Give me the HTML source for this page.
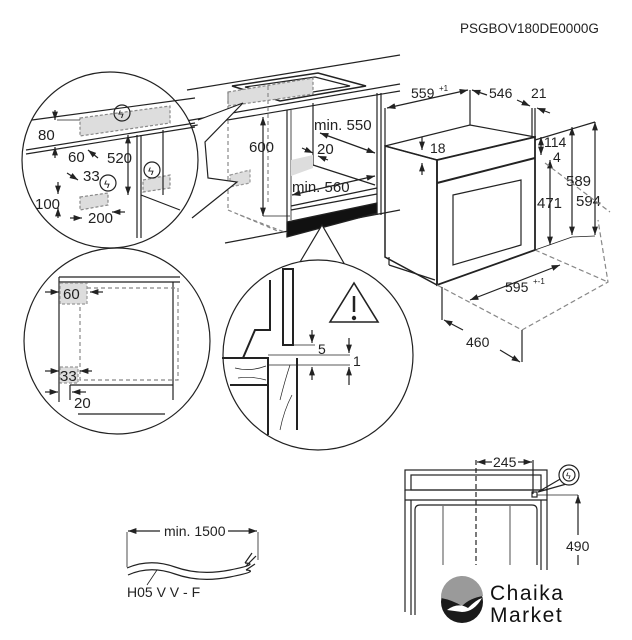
<!DOCTYPE html>
<html><head><meta charset="utf-8"><style>
html,body{margin:0;padding:0;background:#fff;}
svg{display:block}
text{font-family:"Liberation Sans",sans-serif;fill:#222;}
</style></head><body>
<svg width="632" height="640" viewBox="0 0 632 640" xmlns="http://www.w3.org/2000/svg">
<defs>
<marker id="a" viewBox="0 0 10 10" refX="10" refY="5" markerWidth="7" markerHeight="7" orient="auto-start-reverse"><path d="M0,1.5 L10,5 L0,8.5z" fill="#222"/></marker>
</defs>
<g stroke="#222" fill="none" stroke-width="1.2">
<text x="460" y="33" font-size="13.5" stroke="none">PSGBOV180DE0000G</text>

<!-- countertop -->
<line x1="187" y1="90" x2="400" y2="55"/>
<line x1="180" y1="122" x2="400" y2="84"/>
<line x1="180" y1="128" x2="400" y2="91"/>
<line x1="225" y1="243" x2="400" y2="210" />
<!-- hob -->
<polygon points="232,86 318,73 366,86 280,101" stroke-width="1.5"/>
<polygon points="245,87 315,77 350,86 282,97"/>
<polygon points="228,92 313,78 313,94 228,106" fill="#ddd" stroke="#888" stroke-dasharray="3,2"/>
<!-- cabinet -->
<line x1="287" y1="110" x2="287" y2="237"/>
<line x1="291" y1="110" x2="291" y2="220" stroke-width="0.8"/>
<line x1="377" y1="93" x2="377" y2="215"/>
<line x1="381" y1="93" x2="381" y2="215"/>
<line x1="313" y1="103" x2="313" y2="165"/>
<line x1="291" y1="172" x2="313" y2="165"/>
<line x1="313" y1="165" x2="375" y2="185"/>
<line x1="291" y1="206" x2="377" y2="188"/>
<line x1="291" y1="210" x2="377" y2="194"/>
<polygon points="287,222 377,203 377,213 287,237" fill="#111"/>
<polygon points="291,160 313,155 313,168 291,176" fill="#ddd" stroke="none"/>
<g stroke="#888" stroke-dasharray="4,3">
<line x1="228" y1="92" x2="228" y2="210"/>
<line x1="268" y1="86" x2="268" y2="205"/>
<line x1="240" y1="215" x2="287" y2="233"/>
<line x1="228" y1="210" x2="280" y2="232"/>
</g>
<polygon points="230,175 250,170 250,183 230,187" fill="#ddd" stroke="#999" stroke-dasharray="3,2"/>
<line x1="263" y1="117" x2="263" y2="216" marker-start="url(#a)" marker-end="url(#a)"/>
<line x1="263" y1="216" x2="290" y2="216" stroke-width="0.8"/>
<text x="249" y="152" font-size="15" stroke="none">600</text>
<text x="314" y="130" font-size="15" stroke="none">min. 550</text>
<line x1="320" y1="133" x2="375" y2="153" marker-start="url(#a)" marker-end="url(#a)"/>
<text x="317" y="154" font-size="15" stroke="none">20</text>
<line x1="302" y1="148" x2="313" y2="153" marker-end="url(#a)"/>
<line x1="328" y1="160" x2="318" y2="156" marker-end="url(#a)"/>
<text x="292" y="192" font-size="15" stroke="none">min. 560</text>
<line x1="292" y1="195" x2="375" y2="176" marker-start="url(#a)" marker-end="url(#a)"/>
<polyline points="198,120 243,103 205,142 208,178 237,182 192,218" fill="#fff"/>

<!-- circle 1 -->
<circle cx="110" cy="160" r="88" fill="#fff"/>
<g>
<line x1="32" y1="120" x2="195" y2="98"/>
<line x1="26" y1="150" x2="195" y2="123"/>
<line x1="26" y1="154" x2="195" y2="127"/>
<polygon points="80,118 170,106 170,123 80,136" fill="#ddd" stroke="#888" stroke-dasharray="3,2"/>
<polygon points="143,180 170,175 170,188 143,192" fill="#ddd" stroke="#888" stroke-dasharray="3,2"/>
<polygon points="80,197 108,193 108,205 80,210" fill="#ddd" stroke="#888" stroke-dasharray="3,2"/>
<line x1="137" y1="135" x2="137" y2="238"/>
<line x1="141" y1="135" x2="141" y2="238"/>
<line x1="163" y1="130" x2="163" y2="195"/>
<line x1="141" y1="195" x2="180" y2="210" />
<line x1="128" y1="135" x2="128" y2="195" marker-start="url(#a)" marker-end="url(#a)"/>
<line x1="55" y1="110" x2="55" y2="120" marker-end="url(#a)"/>
<line x1="55" y1="158" x2="55" y2="147" marker-end="url(#a)"/>
<line x1="57" y1="120" x2="80" y2="120" stroke-width="0.8"/>
<circle cx="122" cy="113" r="8"/><text x="118" y="118" font-size="11" stroke="none">ϟ</text>
<circle cx="152" cy="170" r="8"/><text x="148" y="175" font-size="11" stroke="none">ϟ</text>
<circle cx="108" cy="183" r="8"/><text x="104" y="188" font-size="11" stroke="none">ϟ</text>
<text x="38" y="140" font-size="15" stroke="none">80</text>
<text x="68" y="162" font-size="15" stroke="none">60</text>
<line x1="88" y1="150" x2="98" y2="158" marker-start="url(#a)"/>
<text x="107" y="163" font-size="15" stroke="none">520</text>
<text x="83" y="181" font-size="15" stroke="none">33</text>
<line x1="67" y1="173" x2="78" y2="180" marker-end="url(#a)"/>
<line x1="58" y1="182" x2="58" y2="194" marker-end="url(#a)"/>
<line x1="58" y1="218" x2="58" y2="208" marker-end="url(#a)"/>
<text x="35" y="209" font-size="15" stroke="none">100</text>
<text x="88" y="223" font-size="15" stroke="none">200</text>
<line x1="70" y1="218" x2="82" y2="218" marker-end="url(#a)"/>
<line x1="125" y1="212" x2="112" y2="212" marker-end="url(#a)"/>
</g>

<!-- circle 2 -->
<circle cx="117" cy="341" r="93" fill="#fff"/>
<line x1="59" y1="277" x2="180" y2="277"/>
<line x1="59" y1="282" x2="180" y2="282"/>
<line x1="59" y1="277" x2="59" y2="402"/>
<line x1="173" y1="282" x2="173" y2="400"/>
<line x1="70" y1="385" x2="173" y2="385"/>
<line x1="70" y1="385" x2="70" y2="400"/>
<line x1="78" y1="414" x2="165" y2="414"/>
<polygon points="60,283 87,283 87,304 60,304" fill="#ddd" stroke="#999" stroke-dasharray="3,2"/>
<polygon points="60,367 78,367 78,383 60,383" fill="#ddd" stroke="#999" stroke-dasharray="3,2"/>
<polyline points="87,288 178,288 178,380 80,380 80,305" stroke="#888" stroke-dasharray="4,3"/>
<text x="63" y="299" font-size="15" stroke="none">60</text>
<text x="60" y="381" font-size="15" stroke="none">33</text>
<text x="74" y="408" font-size="15" stroke="none">20</text>
<line x1="45" y1="292" x2="59" y2="292" marker-end="url(#a)"/>
<line x1="103" y1="292" x2="90" y2="292" marker-end="url(#a)"/>
<line x1="45" y1="371" x2="59" y2="371" marker-end="url(#a)"/>
<line x1="92" y1="371" x2="80" y2="371" marker-end="url(#a)"/>
<line x1="45" y1="392" x2="58" y2="392" marker-end="url(#a)"/>
<line x1="86" y1="392" x2="72" y2="392" marker-end="url(#a)"/>

<!-- circle 3 -->
<polyline points="300,262 322,225 345,265" fill="#fff"/>
<circle cx="318" cy="355" r="95" fill="#fff"/>
<polygon points="283,269 293,269 293,345 283,345" fill="#fff" stroke-width="2"/>
<polyline points="270,280 270,330 255,330 243,358 222,358" stroke-width="2"/>
<polyline points="222,358 268,358 268,435" stroke-width="2"/>
<line x1="297" y1="358" x2="297" y2="430" stroke-width="2"/>
<line x1="230" y1="385" x2="268" y2="385" stroke-width="2"/>
<line x1="268" y1="355" x2="350" y2="355" stroke-width="0.8"/>
<line x1="268" y1="365" x2="350" y2="365" stroke-width="0.8"/>
<line x1="293" y1="345" x2="315" y2="345" stroke-width="0.8"/>
<line x1="312" y1="330" x2="312" y2="343" marker-end="url(#a)"/>
<line x1="312" y1="380" x2="312" y2="367" marker-end="url(#a)"/>
<line x1="349" y1="338" x2="349" y2="353" marker-end="url(#a)"/>
<line x1="349" y1="385" x2="349" y2="367" marker-end="url(#a)"/>
<text x="318" y="354" font-size="14" stroke="none">5</text>
<text x="353" y="366" font-size="14" stroke="none">1</text>
<polygon points="354,283 330,322 378,322" stroke-width="1.6"/>
<line x1="354" y1="296" x2="354" y2="312" stroke-width="2.5"/>
<circle cx="354" cy="318" r="1.6" fill="#222"/>
<path d="M235 368 Q250 372 266 366 M238 378 Q252 376 266 380 M280 400 Q285 380 290 365 M280 430 Q284 410 292 395" stroke-width="0.7"/>

<!-- oven -->
<polygon points="385,146 470,125 535,137 437,160" />
<polygon points="385,146 437,160 437,285 385,257" stroke-width="1.5"/>
<polygon points="437,160 535,137 535,250 437,285" stroke-width="1.8"/>
<line x1="437" y1="183" x2="535" y2="158" stroke-width="2"/>
<polygon points="453,195 521,180 521,245 453,265"/>
<line x1="389" y1="257" x2="389" y2="265"/><line x1="389" y1="265" x2="435" y2="280"/>
<line x1="535" y1="140" x2="595" y2="122"/>
<line x1="385" y1="146" x2="385" y2="108"/>
<line x1="470" y1="125" x2="470" y2="90"/>
<line x1="532" y1="137" x2="532" y2="108"/>
<line x1="535" y1="137" x2="535" y2="108"/>
<line x1="387" y1="108" x2="468" y2="90" marker-start="url(#a)" marker-end="url(#a)"/>
<text x="411" y="98" font-size="14" stroke="none">559</text><text x="439" y="91" font-size="8" stroke="none">+1</text>
<text x="489" y="98" font-size="14" stroke="none">546</text>
<line x1="472" y1="90" x2="487" y2="95" marker-start="url(#a)"/>
<line x1="517" y1="100" x2="530" y2="106" marker-end="url(#a)"/>
<text x="531" y="98" font-size="14" stroke="none">21</text>
<line x1="550" y1="113" x2="537" y2="108" marker-end="url(#a)"/>
<text x="430" y="153" font-size="14" stroke="none">18</text>
<line x1="422" y1="137" x2="422" y2="150" marker-end="url(#a)"/>
<line x1="422" y1="175" x2="422" y2="163" marker-end="url(#a)"/>
<text x="544" y="147" font-size="14" stroke="none">114</text>
<line x1="541" y1="137" x2="541" y2="155" marker-start="url(#a)" marker-end="url(#a)"/>
<text x="553" y="162" font-size="14" stroke="none">4</text>
<line x1="550" y1="160" x2="550" y2="245" marker-start="url(#a)" marker-end="url(#a)"/>
<text x="537" y="208" font-size="15" stroke="none">471</text>
<line x1="572" y1="127" x2="572" y2="235" marker-start="url(#a)" marker-end="url(#a)"/>
<text x="566" y="186" font-size="15" stroke="none">589</text>
<line x1="595" y1="122" x2="595" y2="235" marker-start="url(#a)" marker-end="url(#a)"/>
<text x="576" y="206" font-size="15" stroke="none">594</text>
<g stroke="#888" stroke-dasharray="5,3">
<polyline points="437,285 522,330 608,282 598,220"/>
<line x1="535" y1="250" x2="608" y2="282"/>
<polyline points="545,163 610,212"/>
</g>
<line x1="535" y1="250" x2="572" y2="237" stroke-width="0.8"/>
<line x1="572" y1="237" x2="595" y2="236" stroke-width="0.8"/>
<line x1="470" y1="300" x2="560" y2="265" marker-start="url(#a)" marker-end="url(#a)"/>
<text x="505" y="292" font-size="14" stroke="none">595</text><text x="533" y="284" font-size="8" stroke="none">+-1</text>
<line x1="442" y1="287" x2="442" y2="320"/>
<line x1="522" y1="330" x2="522" y2="362"/>
<line x1="444" y1="320" x2="463" y2="330" marker-start="url(#a)"/>
<line x1="500" y1="350" x2="520" y2="362" marker-end="url(#a)"/>
<text x="466" y="347" font-size="14" stroke="none">460</text>

<!-- bottom right oven -->
<rect x="405" y="470" width="142" height="20"/>
<rect x="411" y="475" width="130" height="15"/>
<line x1="405" y1="490" x2="405" y2="612"/>
<line x1="411" y1="500" x2="411" y2="615"/>
<line x1="547" y1="490" x2="547" y2="570"/>
<line x1="541" y1="500" x2="541" y2="570"/>
<line x1="405" y1="500" x2="547" y2="500"/>
<path d="M415 615 V510 Q415 505 420 505 H532 Q537 505 537 510 V565"/>
<line x1="443" y1="506" x2="443" y2="565" stroke-width="0.8"/>
<line x1="510" y1="506" x2="510" y2="565" stroke-width="0.8"/>
<line x1="476" y1="460" x2="476" y2="565" stroke-dasharray="5,3"/>
<line x1="533" y1="460" x2="533" y2="494"/>
<line x1="500" y1="490" x2="532" y2="490" stroke-width="0.8"/>
<rect x="532" y="492" width="5" height="5"/>
<line x1="537" y1="495" x2="578" y2="495" stroke-width="0.8"/>
<line x1="578" y1="495" x2="578" y2="535" marker-start="url(#a)"/>
<line x1="578" y1="555" x2="578" y2="565"/>
<text x="566" y="551" font-size="14" stroke="none">490</text>
<line x1="492" y1="462" x2="477" y2="462" marker-end="url(#a)"/>
<line x1="518" y1="462" x2="532" y2="462" marker-end="url(#a)"/>
<text x="493" y="467" font-size="14" stroke="none">245</text>
<path d="M538 492 L562 478 M538 492 L570 483"/>
<circle cx="569" cy="475" r="10" fill="#fff"/><circle cx="569" cy="475" r="6"/><text x="566" y="479" font-size="9" stroke="none">ϟ</text>

<!-- cable -->
<line x1="127" y1="532" x2="127" y2="567" stroke-width="0.8"/>
<line x1="258" y1="532" x2="258" y2="560" stroke-width="0.8"/>
<line x1="160" y1="531" x2="128" y2="531" marker-end="url(#a)"/>
<line x1="228" y1="531" x2="257" y2="531" marker-end="url(#a)"/>
<text x="164" y="536" font-size="14" stroke="none">min. 1500</text>
<path d="M127 568 Q150 558 175 567 T230 570 T245 563"/>
<path d="M128 575 Q150 565 175 574 T230 577 T246 570"/>
<path d="M245 563 L252 553 M246 566 L256 556 M246 570 L255 564"/>
<line x1="147" y1="585" x2="157" y2="570" stroke-width="0.8"/>
<text x="127" y="597" font-size="14" stroke="none">H05 V V - F</text>
</g>
<!-- logo -->
<circle cx="462" cy="602" r="21" fill="#1a1a1a"/>
<path d="M441 598 A21 21 0 0 1 483 596 Q470 598 462 606 Q452 600 441 598z" fill="#9a9a9a"/>
<path d="M447 610 Q458 602 468 608 Q476 600 482 598 Q474 612 462 612z" fill="#fff"/>
<text x="490" y="600" font-size="21" style="font-family:'Liberation Sans',sans-serif;fill:#111;letter-spacing:1.5px">Chaika</text>
<text x="490" y="622" font-size="21" style="font-family:'Liberation Sans',sans-serif;fill:#111;letter-spacing:1.5px">Market</text>
</svg>
</body></html>
